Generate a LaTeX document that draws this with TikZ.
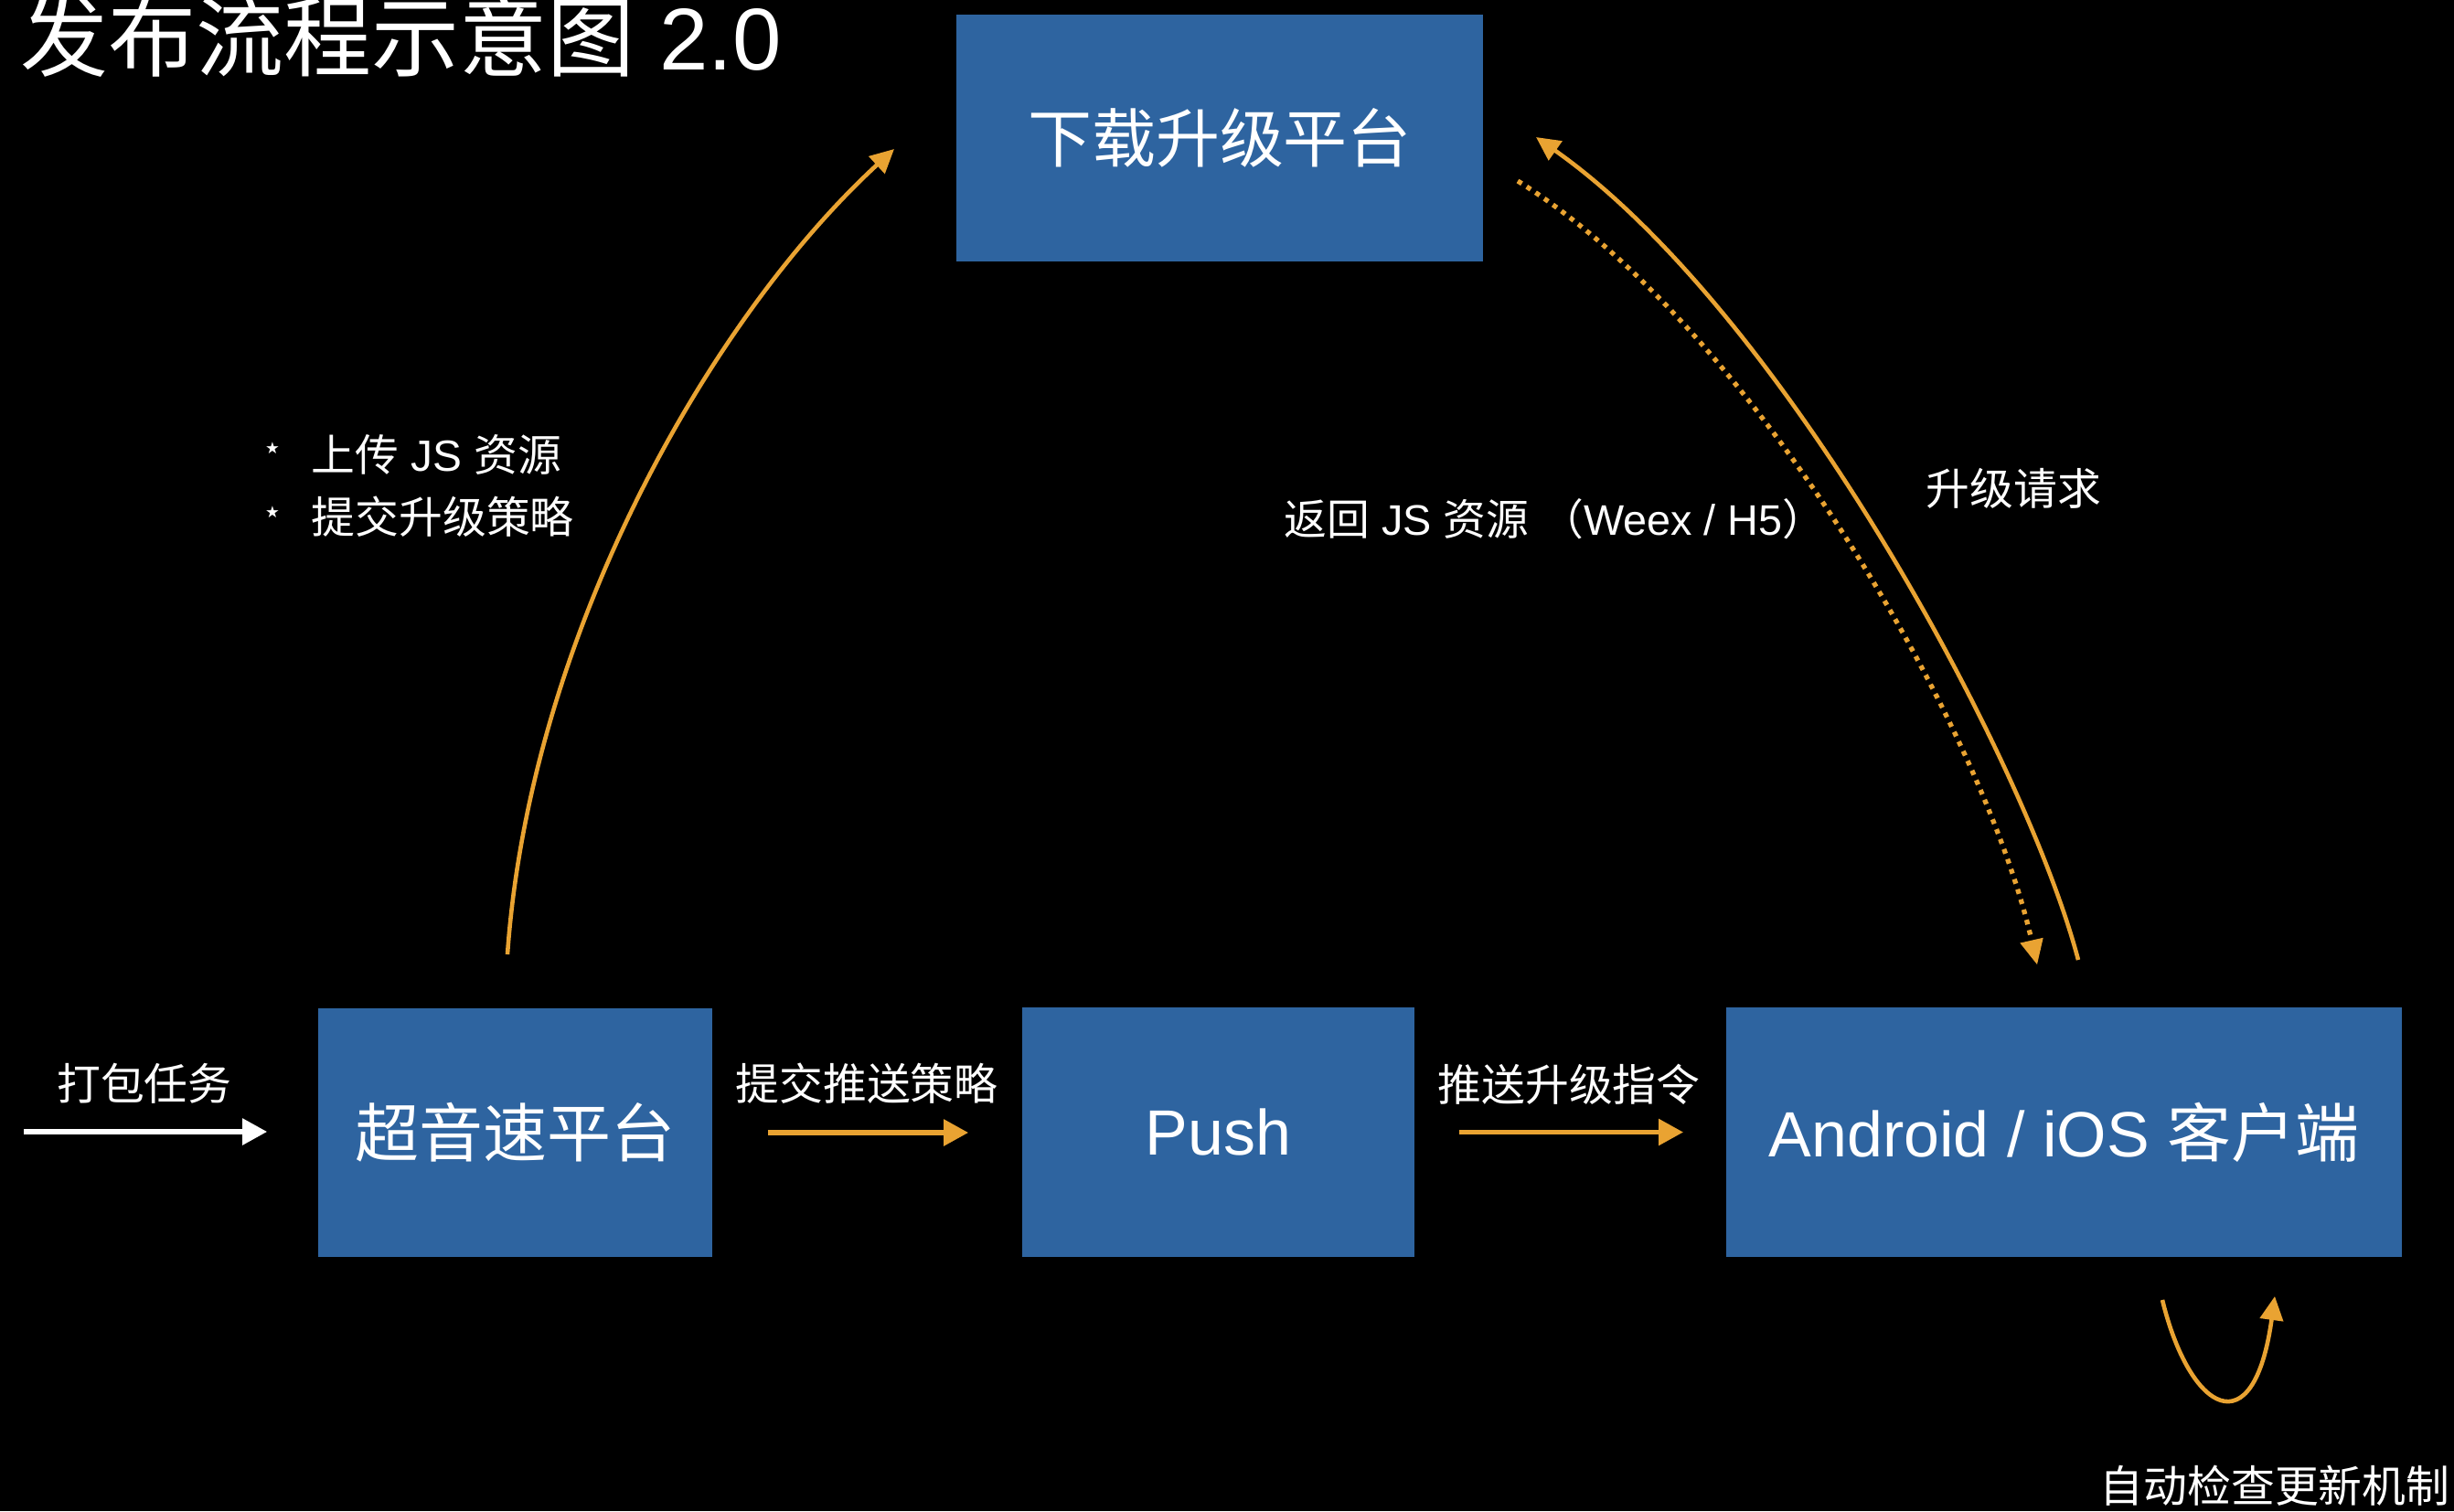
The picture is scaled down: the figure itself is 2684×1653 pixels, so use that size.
\documentclass[tikz,border=0pt]{standalone}
\usepackage{fontspec}
\setmainfont{Liberation Sans}
\newfontfamily\cjk{Noto Sans CJK SC}
\newfontfamily\symfont{DejaVu Sans}
\newcommand{\zh}[1]{{\cjk #1}}
\usetikzlibrary{arrows.meta}
\definecolor{boxblue}{RGB}{46,100,160}
\definecolor{arrorange}{RGB}{233,163,50}
\begin{document}
\begin{tikzpicture}[x=0.01cm,y=-0.01cm,
  box/.style={fill=boxblue, text=white, inner sep=0pt, font=\fontsize{19.9pt}{24pt}\selectfont},
  lbl/.style={text=white, inner sep=0pt, font=\fontsize{13.6pt}{16pt}\selectfont},
  bul/.style={text=white, inner sep=0pt, font=\symfont\fontsize{5pt}{6pt}\selectfont},
  straightarrow/.style={line width=1.6pt, -{Triangle[length=0.27cm,width=0.28cm]}},
  curvearrow/.style={draw=arrorange, line width=1.3pt, -{Triangle[length=0.26cm,width=0.25cm]}},
  dotarrow/.style={draw=arrorange, line width=1.5pt, dash pattern=on 1.5pt off 1.8pt, -{Triangle[length=0.27cm,width=0.26cm,line width=0pt]}}
]
\fill[black] (0,0) rectangle (2684,1653);
\useasboundingbox (0,0) rectangle (2684,1653);

% title
\node[anchor=base west, text=white, inner sep=0pt, font=\fontsize{27.3pt}{30pt}\selectfont] (title) at (22,76) {\zh{发布流程示意图} 2.0};

% boxes
\node[box, minimum width=5.76cm, minimum height=2.70cm] (down) at (1334,151) {\zh{下载升级平台}};
\node[box, minimum width=4.31cm, minimum height=2.72cm] (chao) at (563.5,1239) {\zh{超音速平台}};
\node[box, minimum width=4.29cm, minimum height=2.73cm] (push) at (1332.5,1238.5) {Push};
\node[box, minimum width=7.39cm, minimum height=2.73cm] (client) at (2257.5,1238.5) {Android / iOS \zh{客户端}};

% straight arrows
\coordinate (pk) at (26,1238);
\draw[white, straightarrow, shorten >=0.55cm] (pk) -- (pk -| chao.west);
\draw[arrorange, straightarrow, shorten <=0.60cm, shorten >=0.58cm] (chao.east) -- (chao.east -| push.west);
\draw[arrorange, straightarrow, shorten <=0.48cm, shorten >=0.46cm] (push.east) -- (push.east -| client.west);

\node[lbl] (l1) at (158,1185) {\zh{打包任务}};
\node[lbl] (l2) at (948,1185) {\zh{提交推送策略}};
\node[lbl] (l3) at (1716,1186) {\zh{推送升级指令}};

% left curve: upload
\coordinate (ua) at (555,1044);
\coordinate (ub) at (978,163);
\draw[curvearrow] (ua) .. controls (580,690) and (780,345) .. (ub);

\node[bul] (b1) at (298,490) {★};
\node[bul] (b2) at (298,560) {★};
\node[lbl, anchor=west] (t1) at (340,497) {\zh{上传} JS \zh{资源}};
\node[lbl, anchor=west] (t2) at (340,565) {\zh{提交升级策略}};

% right curves
\coordinate (ra) at (2273,1050);
\coordinate (rb) at (1680,150);
\draw[curvearrow] (ra) .. controls (2215,830) and (1950,340) .. (rb);
\coordinate (da) at (1660,198);
\coordinate (db) at (2228,1055);
\draw[dotarrow] (da) .. controls (1920,360) and (2170,800) .. (db);

\node[lbl, anchor=west, font=\fontsize{13.3pt}{16pt}\selectfont] (ret) at (1404,568) {\zh{返回} JS \zh{资源} \zh{（}Weex / H5\zh{）}};
\node[lbl, anchor=west] (req) at (2106,534) {\zh{升级请求}};

% self loop
\coordinate (sa) at (2365,1422);
\coordinate (sb) at (2488,1418);
\draw[curvearrow] (sa) .. controls (2395,1545) and (2465,1585) .. (sb);
\node[lbl] (auto) at (2488,1625) {\zh{自动检查更新机制}};
\end{tikzpicture}
\end{document}
